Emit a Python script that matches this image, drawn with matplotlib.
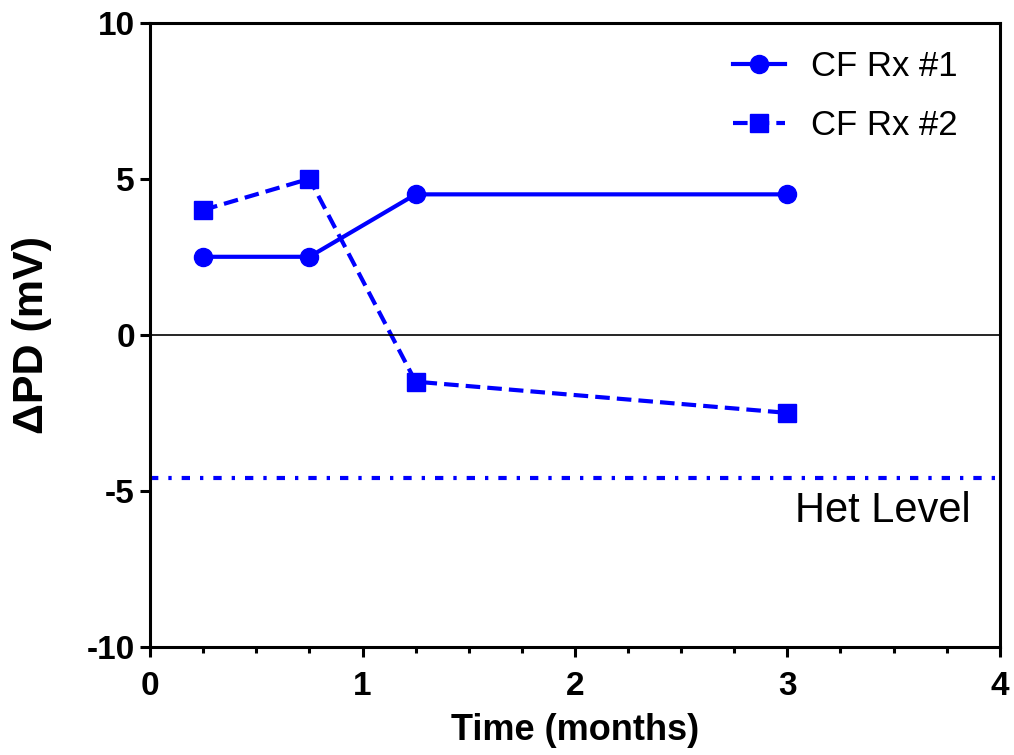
import matplotlib.pyplot as plt
from matplotlib.ticker import MultipleLocator

plt.rcParams['font.family'] = ['Liberation Sans', 'DejaVu Sans']
plt.rcParams['axes.unicode_minus'] = False

time = [0.25, 0.75, 1.25, 3]
rx1 = [2.5, 2.5, 4.5, 4.5]
rx2 = [4, 5, -1.5, -2.5]
het_level = -4.6

fig = plt.figure(figsize=(10.14, 7.55), dpi=100)
ax = fig.add_axes([0.148, 0.143, 0.838, 0.827])

blue = '#0000ff'
ax.plot(time, rx1, color=blue, lw=3, marker='o', ms=13, label='CF Rx #1')
ax.plot(time, rx2, color=blue, lw=3, ls=(0, (3.5, 1.7)), marker='s', ms=13, label='CF Rx #2')
ax.axhline(0, color='black', lw=1.2)
ax.axhline(het_level, color=blue, lw=3, ls=(0, (2, 2.4, 0.8, 2.4)))
ax.text(3.45, -6.0, 'Het Level', fontsize=30, ha='center', va='baseline')

ax.set_xlim(0, 4)
ax.set_ylim(-10, 10)
ax.xaxis.set_major_locator(MultipleLocator(1))
ax.xaxis.set_minor_locator(MultipleLocator(0.25))
ax.yaxis.set_major_locator(MultipleLocator(5))

for s in ax.spines.values():
    s.set_linewidth(2.2)
ax.tick_params(which='major', length=7, width=2.2, labelsize=24)
ax.tick_params(which='minor', length=4.3, width=2.2)
ax.tick_params(axis='x', which='major', pad=10)
ax.tick_params(axis='y', which='major', pad=4)
for lab in ax.get_xticklabels() + ax.get_yticklabels():
    lab.set_fontweight('bold')

ax.set_xlabel('Time (months)', fontsize=26, fontweight='bold')
ax.set_ylabel('ΔPD (mV)', fontsize=31, fontweight='bold')
ax.xaxis.set_label_coords(0.5, -0.105)
ax.yaxis.set_label_coords(-0.115, 0.5)

ax.legend(loc='upper right', frameon=False, fontsize=25, handlelength=1.5,
          handletextpad=0.75, labelspacing=0.75, borderaxespad=0,
          bbox_to_anchor=(0.967, 0.978))

plt.savefig('out.png', dpi=100)
